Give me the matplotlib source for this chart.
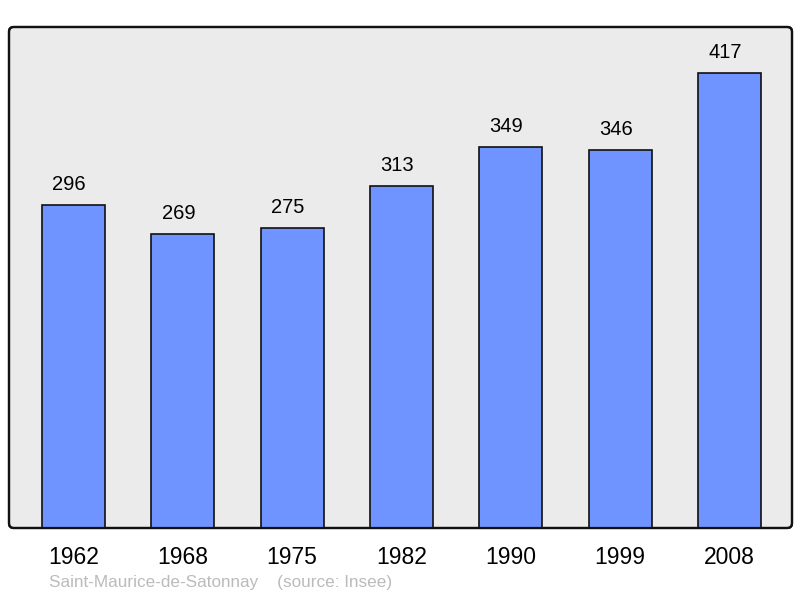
import numpy as np
import matplotlib.pyplot as plt
from matplotlib.patches import FancyBboxPatch

years = ['1962', '1968', '1975', '1982', '1990', '1999', '2008']
population = [296, 269, 275, 313, 349, 346, 417]

plt.rcParams['font.family'] = ['Liberation Sans', 'DejaVu Sans']

fig = plt.figure(figsize=(8, 5.98), dpi=100)
ax = fig.add_axes([9/800, 70/598, 783/800, 501/598])

x = np.arange(len(years))
ax.bar(x, population, width=0.576, color='#7094ff', edgecolor='#111111',
       linewidth=1.2, zorder=2)

# value labels (slightly left of bar centre, as in the original)
for xi, v in zip(x, population):
    ax.text(xi - 0.04, v + 10, str(v), ha='center', va='bottom', fontsize=14.5, color='black')

ax.set_xlim(-0.59, 6.572)
ax.set_ylim(0, 459)

# frame with rounded corners
ax.patch.set_visible(False)
for s in ax.spines.values():
    s.set_visible(False)
frame = FancyBboxPatch((0, 0), 1, 1, boxstyle='round,pad=0,rounding_size=0.006',
                       transform=ax.transAxes, facecolor='#ebebeb', edgecolor='#111111',
                       linewidth=1.6, clip_on=False, zorder=0, mutation_aspect=783/501)
ax.add_patch(frame)
border = FancyBboxPatch((0, 0), 1, 1, boxstyle='round,pad=0,rounding_size=0.006',
                        transform=ax.transAxes, facecolor='none', edgecolor='#111111',
                        linewidth=1.6, clip_on=False, zorder=3, mutation_aspect=783/501)
ax.add_patch(border)

ax.set_xticks(x)
ax.set_xticklabels(years, fontsize=16.5)
ax.tick_params(axis='x', length=0, pad=13)
ax.set_yticks([])

fig.text(49/800, 1 - 583/598, 'Saint-Maurice-de-Satonnay    (source: Insee)',
         fontsize=12.3, color='#bbbbbb', ha='left', va='center')

fig.savefig('out.png', dpi=100)
